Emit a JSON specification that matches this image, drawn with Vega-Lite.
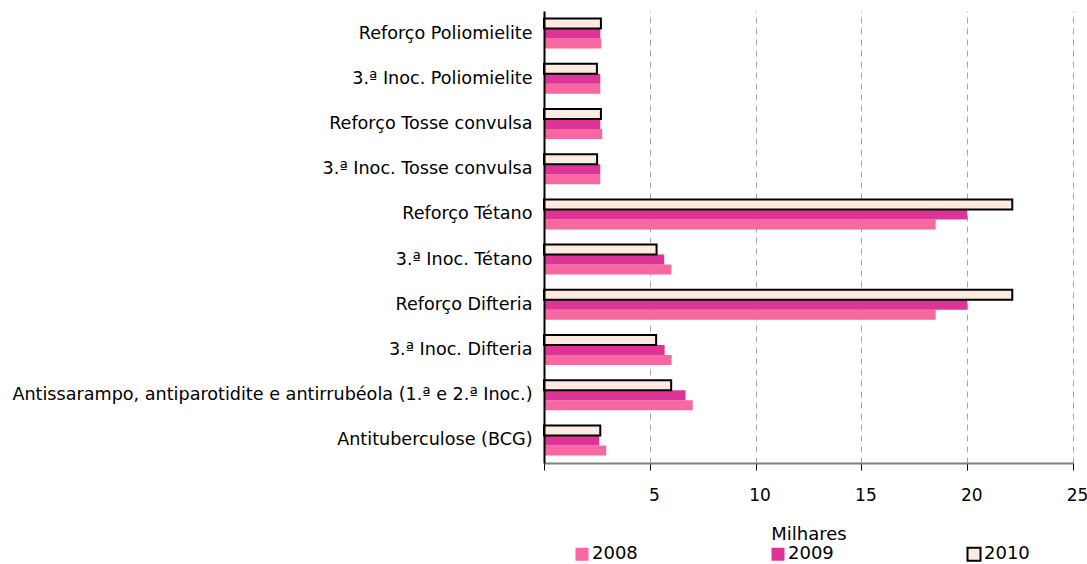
{
  "$schema": "https://vega.github.io/schema/vega-lite/v6.json",
  "autosize": "none",
  "width": 529,
  "height": 452,
  "padding": {"left": 544, "top": 11, "right": 14, "bottom": 101},
  "background": "white",
  "config": {
    "view": {"stroke": null},
    "font": "DejaVu Sans",
    "axis": {"labelFont": "DejaVu Sans", "titleFont": "DejaVu Sans", "labelColor": "#000000", "titleColor": "#000000"},
    "legend": {"labelFont": "DejaVu Sans"}
  },
  "data": {
    "values": [
      {"categoria": "Reforço Poliomielite", "ano": "2008", "valor": 2.71},
      {"categoria": "Reforço Poliomielite", "ano": "2009", "valor": 2.66},
      {"categoria": "Reforço Poliomielite", "ano": "2010", "valor": 2.69},
      {"categoria": "3.ª Inoc. Poliomielite", "ano": "2008", "valor": 2.66},
      {"categoria": "3.ª Inoc. Poliomielite", "ano": "2009", "valor": 2.66},
      {"categoria": "3.ª Inoc. Poliomielite", "ano": "2010", "valor": 2.5},
      {"categoria": "Reforço Tosse convulsa", "ano": "2008", "valor": 2.75},
      {"categoria": "Reforço Tosse convulsa", "ano": "2009", "valor": 2.66},
      {"categoria": "Reforço Tosse convulsa", "ano": "2010", "valor": 2.69},
      {"categoria": "3.ª Inoc. Tosse convulsa", "ano": "2008", "valor": 2.66},
      {"categoria": "3.ª Inoc. Tosse convulsa", "ano": "2009", "valor": 2.66},
      {"categoria": "3.ª Inoc. Tosse convulsa", "ano": "2010", "valor": 2.51},
      {"categoria": "Reforço Tétano", "ano": "2008", "valor": 18.51},
      {"categoria": "Reforço Tétano", "ano": "2009", "valor": 20.0},
      {"categoria": "Reforço Tétano", "ano": "2010", "valor": 22.13},
      {"categoria": "3.ª Inoc. Tétano", "ano": "2008", "valor": 6.02},
      {"categoria": "3.ª Inoc. Tétano", "ano": "2009", "valor": 5.68},
      {"categoria": "3.ª Inoc. Tétano", "ano": "2010", "valor": 5.32},
      {"categoria": "Reforço Difteria", "ano": "2008", "valor": 18.51},
      {"categoria": "Reforço Difteria", "ano": "2009", "valor": 20.0},
      {"categoria": "Reforço Difteria", "ano": "2010", "valor": 22.13},
      {"categoria": "3.ª Inoc. Difteria", "ano": "2008", "valor": 6.03},
      {"categoria": "3.ª Inoc. Difteria", "ano": "2009", "valor": 5.7},
      {"categoria": "3.ª Inoc. Difteria", "ano": "2010", "valor": 5.3},
      {"categoria": "Antissarampo, antiparotidite e antirrubéola (1.ª e 2.ª Inoc.)", "ano": "2008", "valor": 7.03},
      {"categoria": "Antissarampo, antiparotidite e antirrubéola (1.ª e 2.ª Inoc.)", "ano": "2009", "valor": 6.69},
      {"categoria": "Antissarampo, antiparotidite e antirrubéola (1.ª e 2.ª Inoc.)", "ano": "2010", "valor": 6.01},
      {"categoria": "Antituberculose (BCG)", "ano": "2008", "valor": 2.94},
      {"categoria": "Antituberculose (BCG)", "ano": "2009", "valor": 2.61},
      {"categoria": "Antituberculose (BCG)", "ano": "2010", "valor": 2.66}
    ]
  },
  "mark": {"type": "bar", "strokeWidth": 2},
  "encoding": {
    "y": {
      "field": "categoria",
      "type": "nominal",
      "sort": null,
      "scale": {"paddingInner": 0.336, "paddingOuter": 0.168},
      "axis": {
        "title": null,
        "ticks": false,
        "labelFontSize": 17.6,
        "labelPadding": 12,
        "labelLimit": 700,
        "domainColor": "#000000",
        "domainWidth": 2,
        "zindex": 2
      }
    },
    "yOffset": {"field": "ano", "type": "nominal", "sort": "descending", "scale": {"paddingInner": 0, "paddingOuter": 0}},
    "x": {
      "field": "valor",
      "type": "quantitative",
      "scale": {"domain": [0, 25], "nice": false},
      "axis": {
        "title": "Milhares",
        "titleFontSize": 18,
        "titleFontWeight": "normal",
        "titlePadding": 22,
        "values": [0, 5, 10, 15, 20, 25],
        "labelExpr": "datum.value == 0 ? '' : datum.label",
        "labelFontSize": 17,
        "labelPadding": 17,
        "labelOffset": 4,
        "labelFlush": false,
        "tickSize": 7,
        "tickColor": "#000000",
        "tickWidth": 1,
        "domainColor": "#808080",
        "domainWidth": 2,
        "grid": true,
        "gridColor": "#A6A6A6",
        "gridDash": [6, 5],
        "gridWidth": 1
      }
    },
    "fill": {
      "field": "ano",
      "type": "nominal",
      "scale": {"domain": ["2008", "2009", "2010"], "range": ["#F768A1", "#DD3497", "#FDEBE1"]},
      "legend": {
        "title": null,
        "orient": "none",
        "direction": "horizontal",
        "legendX": 29,
        "legendY": 534,
        "symbolType": "square",
        "symbolSize": 169,
        "symbolStrokeWidth": 2,
        "symbolOpacity": 1,
        "labelFontSize": 18,
        "labelOffset": 1,
        "columnPadding": 129
      }
    },
    "stroke": {
      "field": "ano",
      "type": "nominal",
      "scale": {"domain": ["2008", "2009", "2010"], "range": ["transparent", "transparent", "#000000"]},
      "legend": {
        "title": null,
        "orient": "none",
        "direction": "horizontal",
        "legendX": 29,
        "legendY": 534,
        "symbolType": "square",
        "symbolSize": 169,
        "symbolStrokeWidth": 2,
        "labelFontSize": 18,
        "labelOffset": 1,
        "columnPadding": 129
      }
    }
  }
}
